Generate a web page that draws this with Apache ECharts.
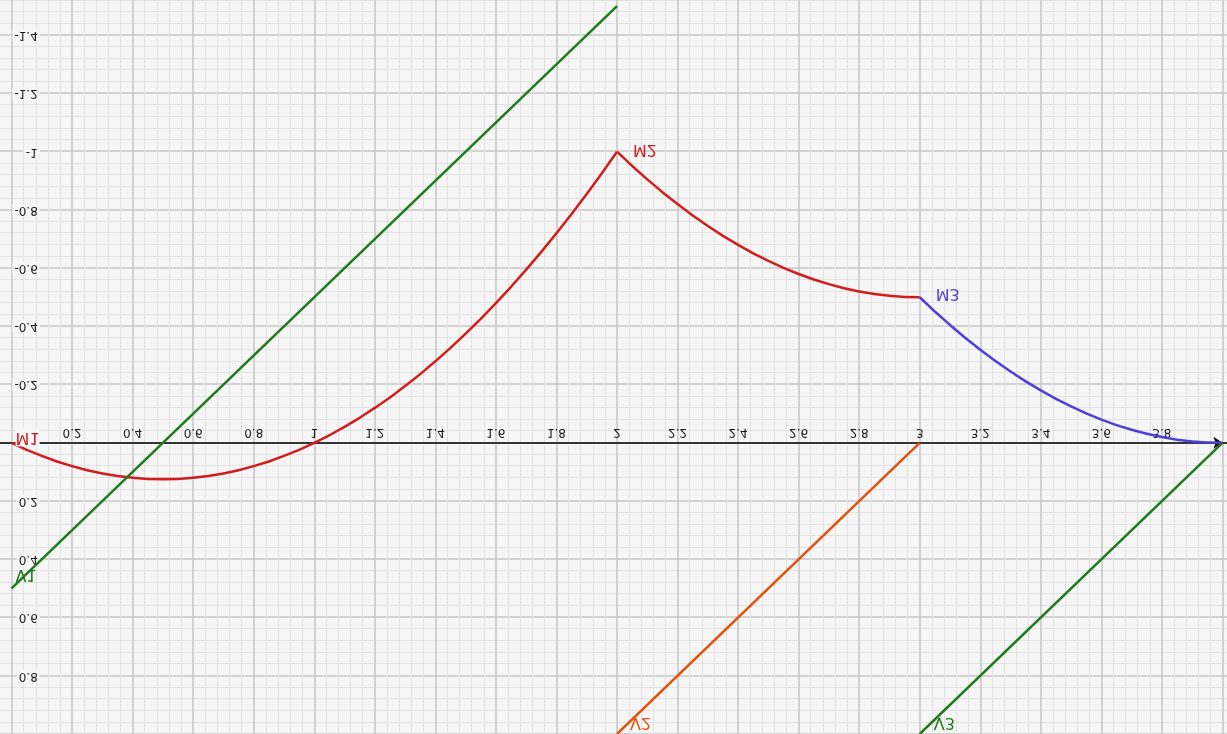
<!DOCTYPE html>
<html>
<head>
<meta charset="utf-8">
<title>Shear and moment diagram</title>
<script src="https://cdn.jsdelivr.net/npm/echarts@6/dist/echarts.min.js"></script>
<style>
  html, body { margin: 0; padding: 0; background: #ffffff; overflow: hidden; }
  /* the diagram is shown mirrored top-to-bottom; the drawing area runs a little past the frame */
  #frame { position: relative; width: 1227px; height: 734px; overflow: hidden; background: #f6f6f6; transform: scaleY(-1); }
  #chart { position: absolute; left: -51.8px; top: 0; width: 1337.6px; height: 757.3px; }
</style>
</head>
<body>
<div id="frame"><div id="chart"></div></div>
<script>
// Bending moment, span 1 (x from 0 to 2)
const m1X = [0, 0.05, 0.1, 0.15, 0.2, 0.25, 0.3, 0.35, 0.4, 0.45, 0.5, 0.55, 0.6, 0.65, 0.7, 0.75, 0.8, 0.85, 0.9, 0.95,
             1.0, 1.05, 1.1, 1.15, 1.2, 1.25, 1.3, 1.35, 1.4, 1.45, 1.5, 1.55, 1.6, 1.65, 1.7, 1.75, 1.8, 1.85, 1.9, 1.95, 2.0];
const m1Y = [0, 0.024, 0.045, 0.064, 0.08, 0.094, 0.105, 0.114, 0.12, 0.124, 0.125, 0.124, 0.12, 0.114, 0.105, 0.094, 0.08, 0.064, 0.045, 0.024,
             0, -0.026, -0.055, -0.086, -0.12, -0.156, -0.195, -0.236, -0.28, -0.326, -0.375, -0.426, -0.48, -0.536, -0.595, -0.656, -0.72, -0.786, -0.855, -0.926, -1.0];
// Bending moment, span 2 (x from 2 to 3)
const m2X = [2.0, 2.05, 2.1, 2.15, 2.2, 2.25, 2.3, 2.35, 2.4, 2.45, 2.5, 2.55, 2.6, 2.65, 2.7, 2.75, 2.8, 2.85, 2.9, 2.95, 3.0];
const m2Y = [-1.0, -0.951, -0.905, -0.861, -0.82, -0.781, -0.745, -0.711, -0.68, -0.651, -0.625, -0.601, -0.58, -0.561, -0.545, -0.531, -0.52, -0.511, -0.505, -0.501, -0.5];
// Bending moment, span 3 (x from 3 to 4)
const m3X = [3.0, 3.05, 3.1, 3.15, 3.2, 3.25, 3.3, 3.35, 3.4, 3.45, 3.5, 3.55, 3.6, 3.65, 3.7, 3.75, 3.8, 3.85, 3.9, 3.95, 4.0];
const m3Y = [-0.5, -0.451, -0.405, -0.361, -0.32, -0.281, -0.245, -0.211, -0.18, -0.151, -0.125, -0.101, -0.08, -0.061, -0.045, -0.031, -0.02, -0.011, -0.005, -0.001, 0];
// Shear force, one straight segment per span
const v1X = [0, 2];
const v1Y = [0.5, -1.5];
const v2X = [2, 3];
const v2Y = [1.0, 0];
const v3X = [3, 4];
const v3Y = [1.0, 0];

const names = ['M1', 'M2', 'M3', 'V1', 'V2', 'V3'];
const colors = ['#d21d1d', '#d21d1d', '#4f3fd8', '#1d7a1d', '#e0530f', '#1d7a1d'];

const FONT = 'DejaVu Sans';
const PLOT_BG = '#f6f6f6';

function fmt(v) { return String(+v.toFixed(2)); }

// builds [x, y] pairs, the first point carries the curve's name label
function curve(xs, ys, name, color, labelOffset, labelBg) {
  const data = xs.map((x, i) => [x, ys[i]]);
  data[0] = {
    value: data[0],
    symbol: 'circle',
    symbolSize: 0.1,
    label: {
      show: true,
      formatter: name,
      position: 'right',
      distance: 5,
      offset: labelOffset,
      color: color,
      fontFamily: FONT,
      fontSize: 16,
      verticalAlign: 'middle',
      backgroundColor: labelBg ? PLOT_BG : 'transparent',
      padding: labelBg ? [2, 0, 0, 0] : 0
    }
  };
  return {
    type: 'line',
    name: name,
    data: data,
    symbol: 'none',
    showSymbol: true,
    showAllSymbol: true,
    smooth: false,
    lineStyle: { color: color, width: 2.5 },
    itemStyle: { color: color },
    z: 3,
    silent: true
  };
}

const chart = echarts.init(document.getElementById('chart'));

const Y_MIN = -1.6, Y_MAX = 1.0;
const chartH = 757.3;
// distance from the bottom edge of the plot up to the zero line
const zeroLift = chartH * (0 - Y_MIN) / (Y_MAX - Y_MIN);

chart.setOption({
  animation: false,
  backgroundColor: 'transparent',
  grid: { left: 0, right: 0, top: 0, bottom: 0, containLabel: false },
  xAxis: {
    type: 'value',
    min: -0.2,
    max: 4.2,
    interval: 0.2,
    position: 'bottom',
    offset: -zeroLift,
    axisLine: { show: true, onZero: false, lineStyle: { color: '#000000', width: 1.6 } },
    axisTick: { show: false },
    axisLabel: {
      margin: 5,
      color: '#1a1a1a',
      fontFamily: FONT,
      fontSize: 12,
      formatter: v => (v > 0.01 && v < 3.99) ? fmt(v) : ''
    },
    splitLine: { show: true, lineStyle: { color: '#c6c6c6', width: 1.5 } },
    minorTick: { show: false, splitNumber: 5 },
    minorSplitLine: { show: true, lineStyle: { color: '#e2e2e2', width: 1 } }
  },
  yAxis: {
    type: 'value',
    min: Y_MIN,
    max: Y_MAX,
    interval: 0.2,
    offset: -88.8,
    axisLine: { show: false },
    axisTick: { show: false },
    axisLabel: {
      margin: 0,
      color: '#1a1a1a',
      fontFamily: FONT,
      fontSize: 12,
      backgroundColor: PLOT_BG,
      padding: [0, 2],
      formatter: v => (Math.abs(v) < 1e-9 || v < -1.55 || v > 0.99) ? '' : fmt(v)
    },
    splitLine: { show: true, lineStyle: { color: '#c6c6c6', width: 1.5 } },
    minorTick: { show: false, splitNumber: 5 },
    minorSplitLine: { show: true, lineStyle: { color: '#e2e2e2', width: 1 } }
  },
  series: [
    curve(m1X, m1Y, names[0], colors[0], [-1, 5.5], true),
    curve(m2X, m2Y, names[1], colors[1], [11, 3], false),
    curve(m3X, m3Y, names[2], colors[2], [11, 4], false),
    curve(v1X, v1Y, names[3], colors[3], [-1, 14], false),
    curve(v2X, v2Y, names[4], colors[4], [8, 12], false),
    curve(v3X, v3Y, names[5], colors[5], [9, 12], false),
    {
      // arrow head at the end of the x axis
      type: 'lines',
      coordinateSystem: 'cartesian2d',
      data: [{ coords: [[3.97, 0], [4.0, 0]] }],
      symbol: ['none', 'arrow'],
      symbolSize: [7, 9],
      lineStyle: { color: '#000000', width: 1.6, opacity: 1 },
      z: 2,
      silent: true
    }
  ]
});
</script>
</body>
</html>
